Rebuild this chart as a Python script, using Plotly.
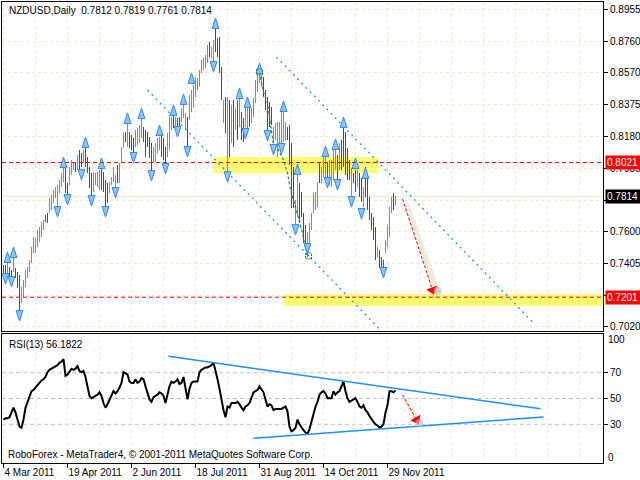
import plotly.graph_objects as go

# ---------------- data ----------------
highs = [
    0.7397, 0.7397, 0.7409, 0.7385, 0.7367, 0.7446, 0.7379, 0.7354, 0.7336, 0.7263,
    0.7306, 0.7367, 0.7385, 0.7427, 0.7507, 0.7567, 0.7561, 0.7610, 0.7628, 0.7659,
    0.7671, 0.7701, 0.7713, 0.7805, 0.7823, 0.7853, 0.7872, 0.7884, 0.7914, 0.7957,
    0.7993, 0.7993, 0.7896, 0.7993, 0.8036, 0.8024, 0.8024, 0.8066, 0.8097, 0.8079,
    0.8097, 0.8115, 0.8054, 0.7993, 0.7957, 0.7963, 0.7957, 0.7963, 0.7975, 0.8006,
    0.7963, 0.7914, 0.7896, 0.7902, 0.7933, 0.7993, 0.7945, 0.8006, 0.8018, 0.8115,
    0.8200,
    0.8206, 0.8261, 0.8206, 0.8188, 0.8170, 0.8219, 0.8231, 0.8249, 0.8292, 0.8237,
    0.8219, 0.8206, 0.8176, 0.8140, 0.8115, 0.8140, 0.8170, 0.8176, 0.8188, 0.8170,
    0.8115, 0.8200, 0.8310, 0.8298, 0.8310, 0.8298, 0.8292, 0.8298, 0.8352, 0.8383,
    0.8322, 0.8298, 0.8432, 0.8462, 0.8493, 0.8541, 0.8535, 0.8584, 0.8645, 0.8657,
    0.8675, 0.8736, 0.8754, 0.8724, 0.8766, 0.8839, 0.8779, 0.8785, 0.8602, 0.8401,
    0.8420, 0.8420, 0.8401, 0.8371, 0.8401, 0.8352, 0.8401, 0.8420, 0.8328, 0.8292,
    0.8359, 0.8401, 0.8352, 0.8352, 0.8414,
    0.8523, 0.8566, 0.8572, 0.8553, 0.8541, 0.8462, 0.8420, 0.8389, 0.8359, 0.8237,
    0.8261, 0.8267, 0.8267, 0.8328, 0.8340, 0.8267, 0.8237, 0.8249, 0.8140, 0.7993,
    0.7792, 0.7945, 0.7896, 0.7841, 0.7713, 0.7640, 0.7598, 0.7652, 0.7713, 0.7835,
    0.7841, 0.7902, 0.8018, 0.7993, 0.8054, 0.8054, 0.8024, 0.8036, 0.8036, 0.8097,
    0.8109, 0.8066, 0.8140, 0.8158, 0.8231, 0.8206, 0.8109, 0.8036, 0.7987, 0.7957,
    0.7975, 0.7975, 0.7957, 0.7926, 0.7872, 0.7993, 0.7933, 0.7811, 0.7713, 0.7689,
    0.7628, 0.7507, 0.7488, 0.7446, 0.7427, 0.7549, 0.7640, 0.7750, 0.7811, 0.7835,
    0.7819,
]
lows = [
    0.7324, 0.7336, 0.7348, 0.7318, 0.7306, 0.7354, 0.7318, 0.7257, 0.7105, 0.7166,
    0.7202, 0.7263, 0.7318, 0.7354, 0.7409, 0.7470, 0.7470, 0.7507, 0.7537, 0.7567,
    0.7610, 0.7659, 0.7652, 0.7713, 0.7732, 0.7774, 0.7805, 0.7732, 0.7835, 0.7872,
    0.7902, 0.7835, 0.7811, 0.7884, 0.7945, 0.7975, 0.7963, 0.7975, 0.7963, 0.7993,
    0.8018, 0.7993, 0.7957, 0.7866, 0.7805, 0.7841, 0.7884, 0.7872, 0.7853, 0.7853,
    0.7841, 0.7744, 0.7774, 0.7835, 0.7884, 0.7902, 0.7853, 0.7896, 0.7896, 0.8018,
    0.8109,
    0.8146, 0.8115, 0.8109, 0.8097, 0.8066, 0.8115, 0.8127, 0.8140, 0.8170, 0.8146,
    0.8054, 0.8115, 0.8048, 0.7963, 0.8018, 0.8024, 0.8079, 0.8097, 0.8054, 0.8036,
    0.7993, 0.8054, 0.8097, 0.8219, 0.8231, 0.8237, 0.8231, 0.8219, 0.8267, 0.8292,
    0.8219, 0.8097, 0.8280, 0.8328, 0.8359, 0.8420, 0.8462, 0.8480, 0.8566, 0.8584,
    0.8596, 0.8627, 0.8663, 0.8657, 0.8627, 0.8693, 0.8663, 0.8566, 0.8401, 0.8261,
    0.8200, 0.7963, 0.8054, 0.8140, 0.8115, 0.8219, 0.8158, 0.8237, 0.8158, 0.8146,
    0.8237, 0.8200, 0.8237, 0.8261, 0.8298,
    0.8383, 0.8450, 0.8505, 0.8480, 0.8420, 0.8340, 0.8200, 0.8237, 0.8249, 0.8140,
    0.8158, 0.8054, 0.8115, 0.8097, 0.8146, 0.8158, 0.8158, 0.8006, 0.7744, 0.7744,
    0.7628, 0.7701, 0.7652, 0.7689, 0.7531, 0.7488, 0.7440, 0.7531, 0.7610, 0.7713,
    0.7732, 0.7750, 0.7896, 0.7896, 0.7933, 0.7914, 0.7872, 0.7884, 0.7872, 0.7914,
    0.7975, 0.7884, 0.7975, 0.7975, 0.7993, 0.7945, 0.7914, 0.7914, 0.7811, 0.7896,
    0.7841, 0.7872, 0.7811, 0.7780, 0.7750, 0.7811, 0.7732, 0.7671, 0.7610, 0.7549,
    0.7427, 0.7446, 0.7379, 0.7367, 0.7367, 0.7470, 0.7507, 0.7567, 0.7713, 0.7732,
    0.7761,
]
bar_up = [
    0, 0, 1, 0, 0, 1, 0, 0, 0, 1, 1, 1, 1, 1, 1, 1, 1, 1, 1, 1,
    1, 0, 0, 1, 1, 1, 1, 1, 1, 1, 1, 0, 0, 1, 1, 1, 0, 1, 0, 0,
    1, 0, 0, 0, 0, 1, 1, 1, 1, 0, 0, 0, 0, 1, 1, 1, 1, 0, 1, 1,
    1,
    0, 1, 0, 0, 0, 1, 1, 1, 1, 0, 0, 0, 0, 0, 1, 1, 1, 1, 0, 0,
    0, 1, 1, 1, 0, 1, 0, 0, 1, 1, 1, 0, 1, 1, 1, 1, 1, 1, 1, 1,
    1, 1, 0, 1, 1, 0, 0, 0, 0, 1, 0, 1, 0, 1, 0, 1, 0, 1, 0, 0,
    1, 1, 0, 1, 1,
    1, 1, 1, 1, 0, 0, 0, 0, 0, 1, 1, 1, 1, 1, 1, 1, 0, 0, 0, 0,
    1, 1, 0, 0, 0, 0, 1, 1, 1, 1, 1, 1, 0, 1, 1, 1, 0, 1, 1, 1,
    1, 0, 1, 0, 0, 0, 0, 0, 1, 0, 0, 1, 0, 0, 1, 0, 0, 0, 0, 0,
    0, 1, 0, 0, 0, 1, 1, 1, 1, 0, 1,
]
rsi = [
    33.7, 34.6, 34.6, 35.5, 39.2, 42.9, 39.2, 33.7, 28.2, 27.3,
    33.7, 42.9, 47.4, 51.1, 55.7, 56.6, 58.5, 60.3, 62.1, 64.0,
    64.9, 66.7, 70.4, 72.2, 73.1, 74.1, 75.0, 75.9, 77.7, 78.7,
    80.5, 67.6, 68.6, 71.3, 73.1, 72.2, 73.1, 75.0, 71.3, 70.4,
    71.3, 66.7, 59.4, 52.0, 50.2, 51.1, 52.0, 53.0, 54.8, 52.0,
    46.5, 42.9, 45.6, 49.3, 52.0, 55.7, 53.9, 55.7, 58.5, 62.1,
    70.4, 69.5, 68.6, 63.1, 62.1, 62.1, 64.9, 62.1, 63.1, 65.8,
    64.9, 59.4, 53.9, 49.3, 47.4, 51.1, 52.0, 53.0, 54.8, 53.9,
    52.0, 46.5, 53.0, 59.4, 63.1, 62.1, 63.1, 64.9, 61.2, 62.1,
    66.7, 58.5, 49.3, 57.5, 62.1, 63.1, 63.1, 63.1, 70.4, 72.2,
    73.1, 74.1, 74.1, 75.0, 75.9, 77.7, 72.2, 64.9, 57.5, 48.4,
    41.0, 35.5, 43.8, 42.9, 46.5, 46.5, 46.5, 47.4, 45.6, 42.9,
    41.0, 43.8, 44.7, 46.5, 50.2, 54.8, 55.7, 56.6, 59.4, 57.5,
    54.8, 49.3, 43.8, 45.6, 44.7, 41.0, 41.9, 41.9, 41.9, 41.9,
    42.9, 43.8, 40.1, 28.2, 24.5, 25.4, 27.3, 33.7, 30.0, 27.3,
    25.4, 23.6, 22.7, 26.3, 32.8, 38.3, 43.8, 47.4, 53.0, 54.8,
    55.7, 53.9, 50.2, 50.2, 50.2, 55.7, 53.0, 54.8, 55.7, 59.4,
    63.1, 55.7, 50.2, 47.4, 48.4, 49.3, 50.2, 47.4, 43.8, 42.9,
    44.7, 41.0, 39.2, 36.4, 33.7, 31.8, 30.0, 29.1, 27.3, 28.2,
    30.0, 39.2, 44.7, 55.7, 55.7, 54.8, 56.18,
]

frac_up_idx = [2, 5, 30, 41, 49, 62, 69, 78, 85, 90, 94, 106, 118, 122, 128, 140, 147, 161, 166, 170, 176, 181]
frac_up_val = [0.7476, 0.7506, 0.8054, 0.8176, 0.8048, 0.8322, 0.8352, 0.8249, 0.8371, 0.8438, 0.8566,
               0.8900, 0.8474, 0.8419, 0.8626, 0.8395, 0.8012, 0.8121, 0.8164, 0.8298, 0.8048, 0.7987]
frac_dn_idx = [1, 4, 8, 27, 32, 39, 44, 51, 56, 65, 74, 81, 87, 92, 105, 112, 121, 132, 135, 139,
               146, 152, 162, 167, 174, 179, 190]
frac_dn_val = [0.7281, 0.7263, 0.7056, 0.7689, 0.7762, 0.7914, 0.7756, 0.7689, 0.7805, 0.8018,
               0.7908, 0.7951, 0.8176, 0.8054, 0.8572, 0.7901, 0.8164, 0.8152, 0.8067, 0.8073,
               0.7579, 0.7464, 0.7866, 0.7853, 0.7750, 0.7677, 0.7318]

x_tick_idx = [0, 32, 64, 96, 128, 160, 192]
x_tick_labels = ["4 Mar 2011", "19 Apr 2011", "2 Jun 2011", "18 Jul 2011",
                 "31 Aug 2011", "14 Oct 2011", "29 Nov 2011"]
price_ticks = [0.8955, 0.8760, 0.8570, 0.8375, 0.8180, 0.7985, 0.7790, 0.7600, 0.7405, 0.7210, 0.7020]
price_tick_text = ["0.8955", "0.8760", "0.8570", "0.8375", "0.8180", "0.7985", "", "0.7600",
                   "0.7405", "", "0.7020"]
rsi_levels = [70, 50, 30]

level_hi = 0.8021
level_lo = 0.7201
last_close = 0.7814

# drawn objects (index, value)
chan_upper_x = [136.5, 265.0]
chan_upper_y = [0.8663, 0.7044]
chan_lower_x = [72.0, 188.5]
chan_lower_y = [0.8462, 0.7001]
zig_x = [128, 130, 132, 133.5, 135, 137.5, 140, 142, 143.5, 146, 147.5, 149.5, 151, 152.5]
zig_y = [0.8572, 0.8450, 0.8383, 0.8237, 0.8127, 0.8097, 0.8036, 0.7957, 0.7853, 0.7750,
         0.7683, 0.7592, 0.7500, 0.7452]
zone_hi = dict(x0=105, x1=187.5, y0=0.7957, y1=0.8054)
zone_lo = dict(x0=140, x1=300, y0=0.7148, y1=0.7221)
arrow_x = [199.5, 214.5]
arrow_y = [0.7799, 0.7245]
shadow_x = [201.5, 217.0]
shadow_y = [0.7762, 0.7227]
rsi_up_x = [82.5, 268.5]
rsi_up_y = [82.7, 42.0]
rsi_lo_x = [125.0, 270.0]
rsi_lo_y = [19.2, 35.7]
rsi_arrow_x = [199.5, 206.5]
rsi_arrow_y = [52.9, 33.5]
rsi_shadow_x = [201.0, 208.0]
rsi_shadow_y = [49.0, 31.0]

# ---------------- figure ----------------
FONT = "Liberation Sans"
GREEN = "#00e600"
RED = "#ff0000"
BLUE = "#1e90ff"
GRID = "#ececd2"

fig = go.Figure()

up_x = [i for i, u in enumerate(bar_up) if u]
dn_x = [i for i, u in enumerate(bar_up) if not u]

fig.add_trace(go.Scatter(x=shadow_x, y=shadow_y, mode="lines",
                         line=dict(color="#ececdf", width=6), xaxis="x", yaxis="y", hoverinfo="skip"))
fig.add_trace(go.Bar(x=up_x, y=[highs[i] - lows[i] for i in up_x], base=[lows[i] for i in up_x],
                     width=0.3, marker=dict(color=GREEN, line=dict(width=0)), opacity=1,
                     xaxis="x", yaxis="y", hoverinfo="skip"))
fig.add_trace(go.Bar(x=dn_x, y=[highs[i] - lows[i] for i in dn_x], base=[lows[i] for i in dn_x],
                     width=0.3, marker=dict(color=RED, line=dict(width=0)), opacity=1,
                     xaxis="x", yaxis="y", hoverinfo="skip"))
fig.add_trace(go.Scatter(x=chan_upper_x, y=chan_upper_y, mode="lines",
                         line=dict(color=BLUE, width=1.3, dash="2px,4px"), xaxis="x", yaxis="y"))
fig.add_trace(go.Scatter(x=chan_lower_x, y=chan_lower_y, mode="lines",
                         line=dict(color=BLUE, width=1.3, dash="2px,4px"), xaxis="x", yaxis="y"))
fig.add_trace(go.Scatter(x=zig_x, y=zig_y, mode="lines",
                         line=dict(color="#2e7d4f", width=1.2, dash="3px,2px"), xaxis="x", yaxis="y"))
fig.add_trace(go.Scatter(x=frac_up_idx, y=frac_up_val, mode="markers",
                         marker=dict(symbol="arrow", size=11, color="#8cc4fa",
                                     line=dict(color="#3088ea", width=1)), xaxis="x", yaxis="y"))
fig.add_trace(go.Scatter(x=frac_dn_idx, y=frac_dn_val, mode="markers",
                         marker=dict(symbol="arrow", angle=180, size=11, color="#8cc4fa",
                                     line=dict(color="#3088ea", width=1)), xaxis="x", yaxis="y"))
fig.add_trace(go.Scatter(x=arrow_x, y=arrow_y, mode="lines",
                         line=dict(color="#ff0000", width=1, dash="3px,2px"), xaxis="x", yaxis="y"))
fig.add_trace(go.Scatter(x=[arrow_x[1]], y=[arrow_y[1]], mode="markers",
                         marker=dict(symbol="triangle-down", size=10, angle=-18, color="#ff0000"),
                         xaxis="x", yaxis="y"))
fig.add_trace(go.Scatter(x=[shadow_x[1]], y=[shadow_y[1] + 0.0012], mode="markers",
                         marker=dict(symbol="circle", size=8, color="rgba(200,185,200,0.6)"),
                         xaxis="x", yaxis="y"))

fig.add_trace(go.Scatter(x=rsi_shadow_x, y=rsi_shadow_y, mode="lines",
                         line=dict(color="#ececdf", width=6), xaxis="x2", yaxis="y2"))
fig.add_trace(go.Scatter(x=list(range(len(rsi))), y=rsi, mode="lines",
                         line=dict(color="black", width=2), xaxis="x2", yaxis="y2"))
fig.add_trace(go.Scatter(x=rsi_up_x, y=rsi_up_y, mode="lines",
                         line=dict(color=BLUE, width=1.5), xaxis="x2", yaxis="y2"))
fig.add_trace(go.Scatter(x=rsi_lo_x, y=rsi_lo_y, mode="lines",
                         line=dict(color=BLUE, width=1.5), xaxis="x2", yaxis="y2"))
fig.add_trace(go.Scatter(x=rsi_arrow_x, y=rsi_arrow_y, mode="lines",
                         line=dict(color="#ff0000", width=1, dash="3px,2px"), xaxis="x2", yaxis="y2"))
fig.add_trace(go.Scatter(x=[rsi_arrow_x[1]], y=[rsi_arrow_y[1]], mode="markers",
                         marker=dict(symbol="triangle-down", size=10, angle=-29, color="#ff0000"),
                         xaxis="x2", yaxis="y2"))
fig.add_trace(go.Scatter(x=[rsi_shadow_x[1]], y=[rsi_shadow_y[1]], mode="markers",
                         marker=dict(symbol="circle", size=8, color="rgba(200,185,200,0.6)"),
                         xaxis="x2", yaxis="y2"))

shapes = []
for z in (zone_hi, zone_lo):
    shapes.append(dict(type="rect", xref="x", yref="y", layer="below", line=dict(width=0),
                       fillcolor="#ffff70", **z))
shapes.append(dict(type="line", xref="paper", yref="y", x0=0, x1=1, y0=last_close, y1=last_close,
                   layer="below", line=dict(color="#ecebc8", width=1)))
for lv in (level_hi, level_lo):
    shapes.append(dict(type="line", xref="paper", yref="y", x0=0, x1=1, y0=lv, y1=lv,
                       layer="above", line=dict(color="#ff0000", width=1, dash="4px,3px")))
for lv in rsi_levels:
    shapes.append(dict(type="line", xref="paper", yref="y2", x0=0, x1=1, y0=lv, y1=lv,
                       layer="below", line=dict(color="#c0c0c0", width=1, dash="4px,3px")))
for (cx, cy) in ((zig_x[0], zig_y[0]), (zig_x[-1], zig_y[-1])):
    shapes.append(dict(type="rect", xref="x", yref="y", x0=cx - 1.5, x1=cx + 1.5,
                       y0=cy - 0.0018, y1=cy + 0.0018,
                       line=dict(color="#2e7d4f", width=1, dash="2px,1px")))

annotations = [
    dict(xref="paper", yref="paper", x=0.0083, y=0.9826, xanchor="left", yanchor="middle",
         text="NZDUSD,Daily  0.7812 0.7819 0.7761 0.7814", showarrow=False,
         font=dict(family=FONT, size=10, color="black")),
    dict(xref="paper", yref="paper", x=0.0083, y=0.258, xanchor="left", yanchor="middle",
         text="RSI(13) 56.1822", showarrow=False, font=dict(family=FONT, size=10, color="black")),
    dict(xref="paper", yref="paper", x=0.0067, y=0.0195, xanchor="left", yanchor="middle",
         text="RoboForex - MetaTrader4, © 2001-2011 MetaQuotes Software Corp.", showarrow=False,
         font=dict(family=FONT, size=10, color="black")),
    dict(xref="paper", yref="y2", x=1.0, xshift=3, y=95.5, xanchor="left", yanchor="middle",
         text="100", showarrow=False, font=dict(family=FONT, size=10, color="black")),
    dict(xref="paper", yref="y2", x=1.0, xshift=3, y=4.5, xanchor="left", yanchor="middle",
         text="0", showarrow=False, font=dict(family=FONT, size=10, color="black")),
]
for val, bg in ((level_hi, "#ff0000"), (last_close, "#000000"), (level_lo, "#ff0000")):
    annotations.append(dict(xref="paper", yref="y", x=1.0, xshift=2, y=val, xanchor="left",
                            yanchor="middle", text=f"{val:.4f}", showarrow=False, bgcolor=bg,
                            borderpad=1, width=34, align="left",
                            font=dict(family=FONT, size=10, color="white")))

fig.update_layout(
    width=640, height=480, margin=dict(l=2, r=37, t=2, b=17, autoexpand=False),
    paper_bgcolor="white", plot_bgcolor="white", showlegend=False, barmode="overlay",
    font=dict(family=FONT, size=10, color="black"),
    shapes=shapes, annotations=annotations,
    xaxis=dict(domain=[0, 1], range=[-0.75, 299.75], anchor="y", showticklabels=False,
               ticks="", tickvals=list(range(0, 300, 16)), showgrid=True, gridcolor=GRID,
               griddash="3px,3px", gridwidth=1, showline=True, mirror=True, linecolor="black",
               linewidth=1, zeroline=False, automargin=False),
    xaxis2=dict(domain=[0, 1], range=[-0.75, 299.75], anchor="y2", matches="x",
                tickvals=x_tick_idx, ticktext=x_tick_labels, ticks="outside", ticklen=4,
                tickcolor="black", ticklabelposition="outside right", tickangle=0,
                showgrid=False, automargin=False,
                minor=dict(tick0=0, dtick=16, showgrid=True, gridcolor=GRID, griddash="3px,3px",
                           ticks=""),
                showline=True, mirror=True, linecolor="black", linewidth=1, zeroline=False,
                tickfont=dict(family=FONT, size=10, color="black")),
    yaxis=dict(domain=[0.2863, 1], range=[0.69952, 0.89976], anchor="x", side="right",
               tickvals=price_ticks, ticktext=price_tick_text,
               ticks="outside", ticklen=4, tickcolor="black", showgrid=True, gridcolor=GRID,
               griddash="3px,3px", showline=True, mirror=True, linecolor="black", linewidth=1,
               zeroline=False, automargin=False, tickfont=dict(family=FONT, size=10, color="black")),
    yaxis2=dict(domain=[0, 0.2798], range=[0, 100], anchor="x2", side="right",
                tickvals=rsi_levels, ticks="outside", ticklen=4, tickcolor="black",
                showgrid=False, showline=True, mirror=True, linecolor="black", linewidth=1,
                zeroline=False, automargin=False, tickfont=dict(family=FONT, size=10, color="black")),
)

fig.write_html("out.html", config={"displayModeBar": False},
               post_script="document.body.style.margin='0px';")
